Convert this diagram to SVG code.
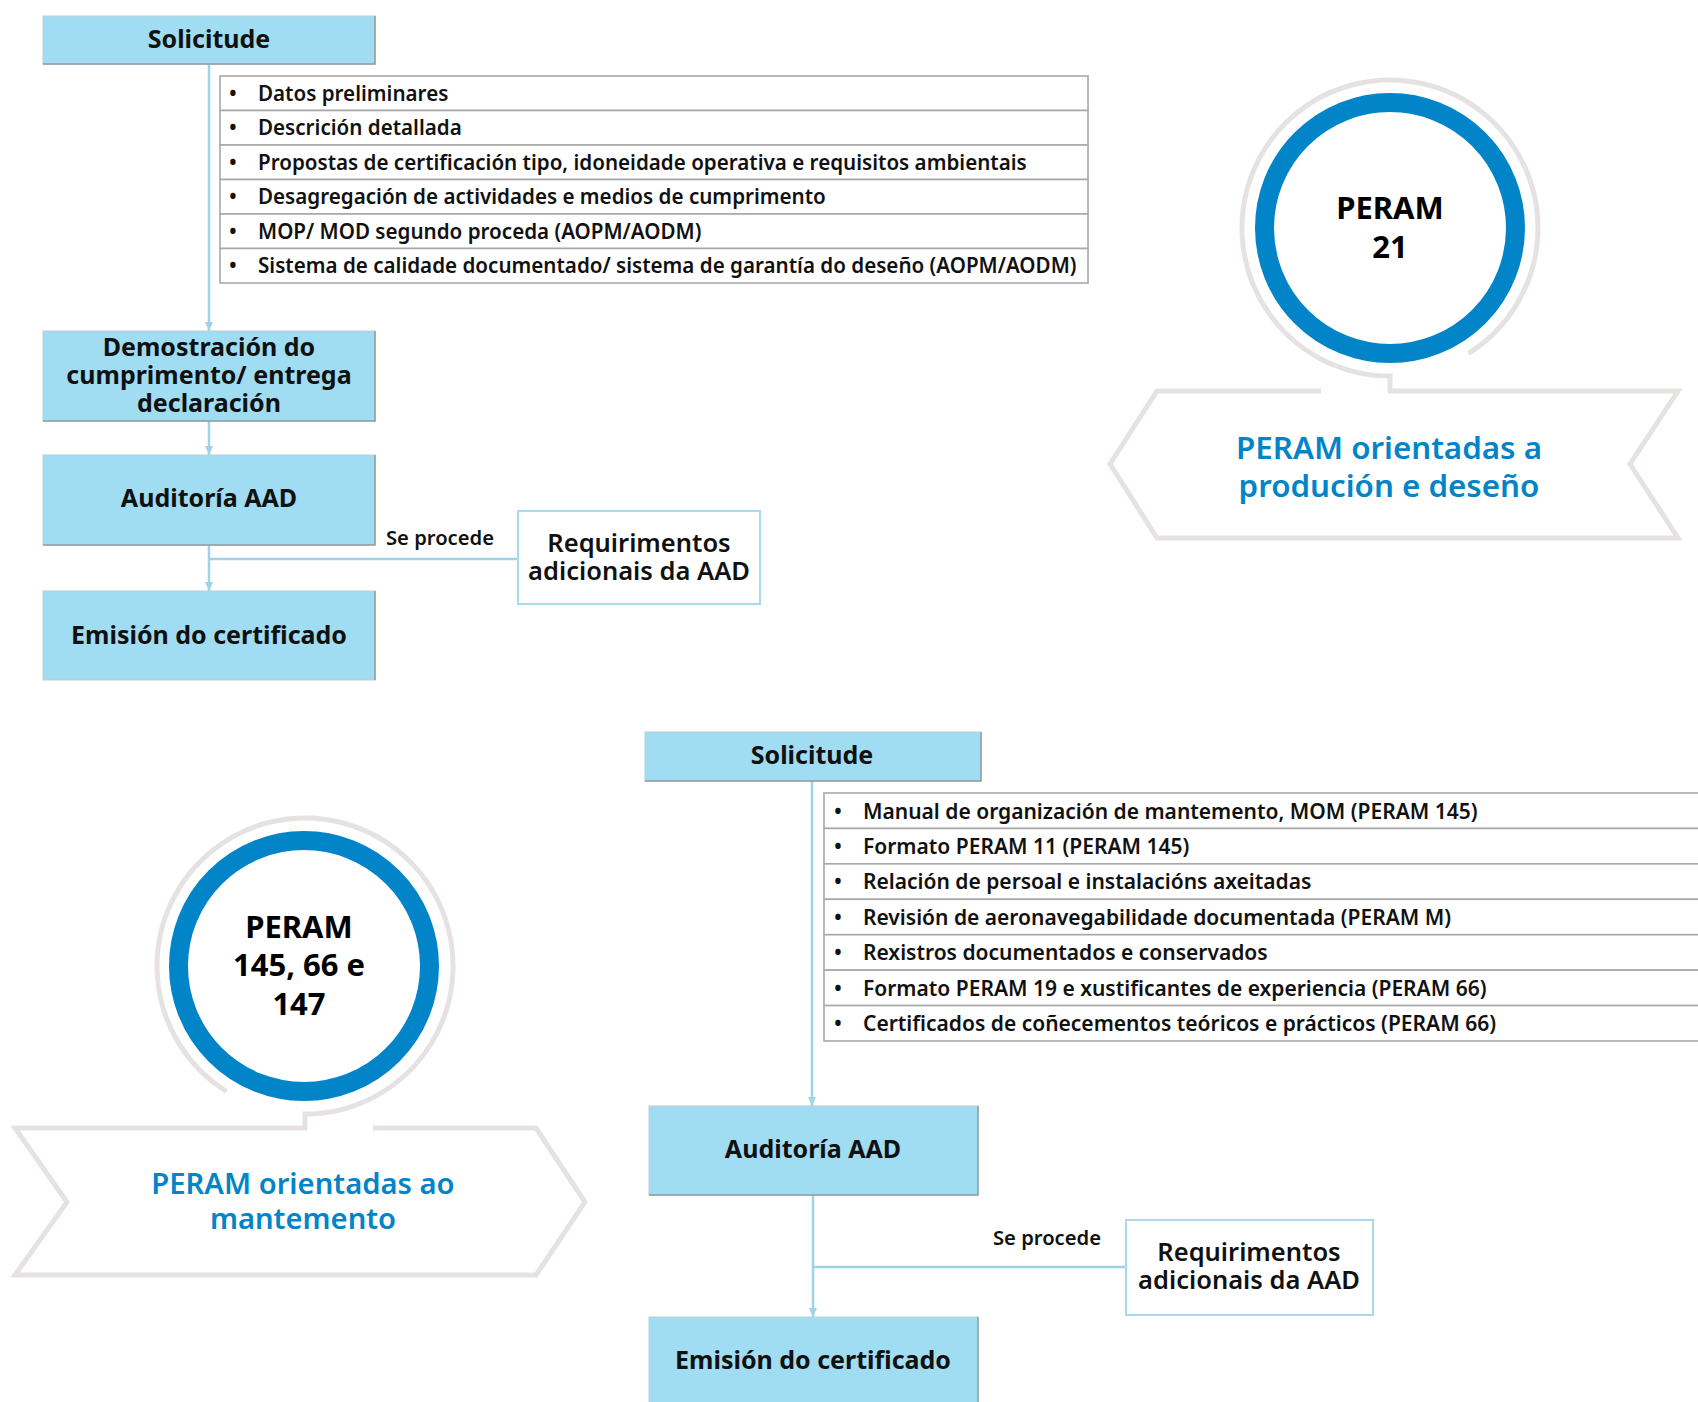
<svg xmlns="http://www.w3.org/2000/svg" width="1698" height="1402" viewBox="0 0 1698 1402">
<defs>
<style>
.box{fill:#a0dcf2;stroke:#b9cdd4;stroke-width:1}
.shade{stroke:#8e9ca1;stroke-width:1.5;fill:none}
.bt{font-family:"Noto Sans",sans-serif;font-weight:700;font-size:25px;fill:#111;text-anchor:middle}
.li{fill:#fff;stroke:#a8a8a8;stroke-width:1.6}
.lt{font-family:"Noto Sans",sans-serif;font-weight:600;font-size:20.6px;fill:#111}
.lb{font-family:"Noto Sans",sans-serif;font-weight:600;font-size:21px;fill:#111}
.con{stroke:#9ed3ea;stroke-width:2.5;fill:none}
.req{fill:#fff;stroke:#a9d9ec;stroke-width:2}
.rt{font-family:"Noto Sans",sans-serif;font-weight:600;font-size:25.5px;fill:#111;text-anchor:middle}
.sp{font-family:"Noto Sans",sans-serif;font-weight:600;font-size:20.2px;fill:#111;text-anchor:middle}
.gray{fill:none;stroke:#e7e2e2;stroke-width:5}
.blue{fill:#fff;stroke:#0284c9;stroke-width:19}
.ct{font-family:"Noto Sans",sans-serif;font-weight:700;font-size:31px;fill:#000;text-anchor:middle}
.cht{font-family:"Noto Sans",sans-serif;font-weight:600;font-size:31.3px;fill:#0284c9;text-anchor:middle}
.chb{font-family:"Noto Sans",sans-serif;font-weight:600;font-size:29.2px;fill:#0284c9;text-anchor:middle}
</style>
<marker id="arrd" markerUnits="userSpaceOnUse" markerWidth="10" markerHeight="10" refX="9" refY="5" orient="auto" viewBox="0 0 10 10">
<path d="M0,1 L9,5 L0,9 Z" fill="#9ed3ea"/>
</marker>
</defs>

<g id="connectors">
<line class="con" x1="209" y1="64" x2="209" y2="331" marker-end="url(#arrd)"/>
<line class="con" x1="209" y1="421" x2="209" y2="455" marker-end="url(#arrd)"/>
<line class="con" x1="209" y1="545" x2="209" y2="591" marker-end="url(#arrd)"/>
<line class="con" x1="209" y1="559" x2="518" y2="559"/>
<line class="con" x1="812" y1="781" x2="812" y2="1106" marker-end="url(#arrd)"/>
<line class="con" x1="813" y1="1195" x2="813" y2="1317" marker-end="url(#arrd)"/>
<line class="con" x1="813" y1="1267" x2="1126" y2="1267"/>
<text class="sp" x="440" y="545">Se procede</text>
<text class="sp" x="1047" y="1245">Se procede</text>
</g>

<g id="top-solicitude">
<rect class="box" x="43" y="16" width="332" height="48"/>
<polyline class="shade" points="375,16 375,64 43,64"/>
<text class="bt" x="209" y="48">Solicitude</text>
</g>

<g id="top-list">
<rect class="li" x="220" y="76" width="868" height="34.5"/>
<rect class="li" x="220" y="110.5" width="868" height="34.5"/>
<rect class="li" x="220" y="145" width="868" height="34.5"/>
<rect class="li" x="220" y="179.5" width="868" height="34.5"/>
<rect class="li" x="220" y="214" width="868" height="34.5"/>
<rect class="li" x="220" y="248.5" width="868" height="34.5"/>
<text class="lt" x="229" y="100.5">•</text><text class="lt" x="258" y="100.5">Datos preliminares</text>
<text class="lt" x="229" y="135">•</text><text class="lt" x="258" y="135">Descrición detallada</text>
<text class="lt" x="229" y="169.5">•</text><text class="lt" x="258" y="169.5">Propostas de certificación tipo, idoneidade operativa e requisitos ambientais</text>
<text class="lt" x="229" y="204">•</text><text class="lt" x="258" y="204">Desagregación de actividades e medios de cumprimento</text>
<text class="lt" x="229" y="238.5">•</text><text class="lt" x="258" y="238.5">MOP/ MOD segundo proceda (AOPM/AODM)</text>
<text class="lt" x="229" y="273">•</text><text class="lt" x="258" y="273">Sistema de calidade documentado/ sistema de garantía do deseño (AOPM/AODM)</text>
</g>

<g id="top-demostracion">
<rect class="box" x="43" y="331" width="332" height="90"/>
<polyline class="shade" points="375,331 375,421 43,421"/>
<text class="bt" x="209" y="356">Demostración do</text>
<text class="bt" x="209" y="384">cumprimento/ entrega</text>
<text class="bt" x="209" y="412">declaración</text>
</g>

<g id="top-auditoria">
<rect class="box" x="43" y="455" width="332" height="90"/>
<polyline class="shade" points="375,455 375,545 43,545"/>
<text class="bt" x="209" y="507">Auditoría AAD</text>
</g>

<g id="top-emision">
<rect class="box" x="43" y="591" width="332" height="89"/>
<polyline class="shade" points="375,591 375,680"/>
<text class="bt" x="209" y="644">Emisión do certificado</text>
</g>

<g id="top-requirimentos">
<rect class="req" x="518" y="511" width="242" height="93"/>
<text class="rt" x="639" y="552">Requirimentos</text>
<text class="rt" x="639" y="580">adicionais da AAD</text>
</g>

<g id="peram-21">
<path class="gray" d="M1390,392 L1390,376 A148,148 0 1 1 1468.4,353.5"/>
<path class="gray" d="M1321,391 L1157,391 L1110,464 L1157,538 L1678,538 L1630,464 L1678,391 L1388,391"/>
<circle class="blue" cx="1390" cy="228" r="125.5"/>
<text class="ct" x="1390" y="219">PERAM</text>
<text class="ct" x="1390" y="258">21</text>
<text class="cht" x="1389" y="459">PERAM orientadas a</text>
<text class="cht" x="1389" y="497">produción e deseño</text>
</g>

<g id="peram-145">
<path class="gray" d="M305,1129 L305,1114 A148,148 0 1 0 226.6,1091.5"/>
<path class="gray" d="M373,1128 L536,1128 L585,1202 L536,1275 L15,1275 L67,1202 L15,1128 L307,1128"/>
<circle class="blue" cx="304" cy="966" r="125.5"/>
<text class="ct" x="299" y="938">PERAM</text>
<text class="ct" x="299" y="976">145, 66 e</text>
<text class="ct" x="299" y="1015">147</text>
<text class="chb" x="303" y="1194">PERAM orientadas ao</text>
<text class="chb" x="303" y="1229">mantemento</text>
</g>

<g id="bottom-solicitude">
<rect class="box" x="645" y="732" width="336" height="49"/>
<polyline class="shade" points="981,732 981,781 645,781"/>
<text class="bt" x="812" y="764">Solicitude</text>
</g>

<g id="bottom-list">
<rect class="li" x="824" y="793" width="890" height="35.43"/>
<rect class="li" x="824" y="828.43" width="890" height="35.43"/>
<rect class="li" x="824" y="863.86" width="890" height="35.43"/>
<rect class="li" x="824" y="899.29" width="890" height="35.43"/>
<rect class="li" x="824" y="934.71" width="890" height="35.43"/>
<rect class="li" x="824" y="970.14" width="890" height="35.43"/>
<rect class="li" x="824" y="1005.57" width="890" height="35.43"/>
<text class="lb" x="834" y="818.5">•</text><text class="lb" x="863" y="818.5">Manual de organización de mantemento, MOM (PERAM 145)</text>
<text class="lb" x="834" y="853.5">•</text><text class="lb" x="863" y="853.5">Formato PERAM 11 (PERAM 145)</text>
<text class="lb" x="834" y="889">•</text><text class="lb" x="863" y="889">Relación de persoal e instalacións axeitadas</text>
<text class="lb" x="834" y="924.5">•</text><text class="lb" x="863" y="924.5">Revisión de aeronavegabilidade documentada (PERAM M)</text>
<text class="lb" x="834" y="960">•</text><text class="lb" x="863" y="960">Rexistros documentados e conservados</text>
<text class="lb" x="834" y="995.5">•</text><text class="lb" x="863" y="995.5">Formato PERAM 19 e xustificantes de experiencia (PERAM 66)</text>
<text class="lb" x="834" y="1031">•</text><text class="lb" x="863" y="1031">Certificados de coñecementos teóricos e prácticos (PERAM 66)</text>
</g>

<g id="bottom-auditoria">
<rect class="box" x="649" y="1106" width="329" height="89"/>
<polyline class="shade" points="978,1106 978,1195 649,1195"/>
<text class="bt" x="813" y="1158">Auditoría AAD</text>
</g>

<g id="bottom-emision">
<rect class="box" x="649" y="1317" width="329" height="90"/>
<polyline class="shade" points="978,1317 978,1402"/>
<text class="bt" x="813" y="1369">Emisión do certificado</text>
</g>

<g id="bottom-requirimentos">
<rect class="req" x="1126" y="1220" width="247" height="95"/>
<text class="rt" x="1249" y="1261">Requirimentos</text>
<text class="rt" x="1249" y="1289">adicionais da AAD</text>
</g>
</svg>
